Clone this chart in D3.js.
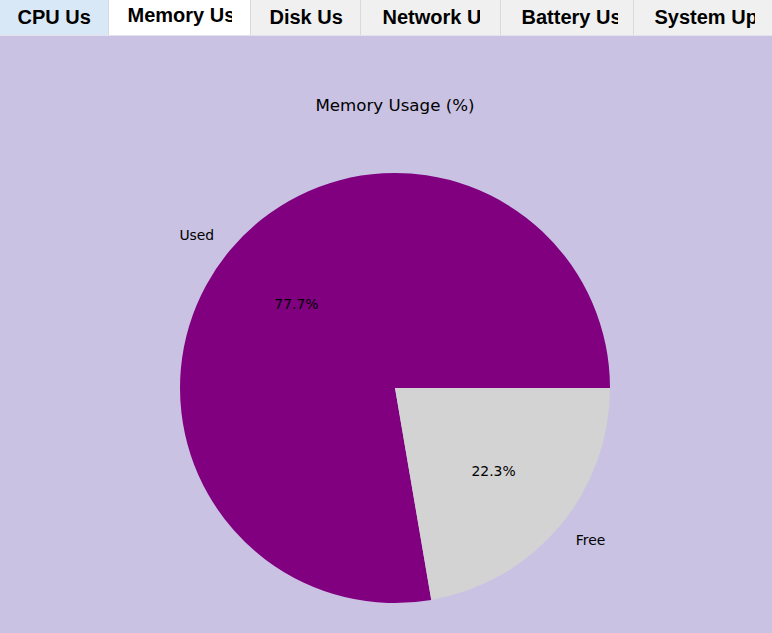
<!DOCTYPE html>
<html>
<head>
<meta charset="utf-8">
<script src="https://cdn.jsdelivr.net/npm/d3@7"></script>
<style>
  html, body { margin: 0; padding: 0; background: #c9c2e3; }
  svg { display: block; }
</style>
</head>
<body>
<div id="chart"></div>
<script>
// ---- data ----
const tabLabels = ["CPU Usage", "Memory Usage", "Disk Usage", "Network Usage", "Battery Usage", "System Uptime"];
const selectedTab = "Memory Usage";
const hoverTab = "CPU Usage";
const categories = ["Used", "Free"];
const values = [77.7, 22.3];
const chartTitle = "Memory Usage (%)";

// ---- layout ----
const W = 772, H = 633;
const tabEdges = [0, 109, 251, 361, 501, 634, 772];
const tabPadL = [17, 18, 18, 21, 20, 20];
const tabPadR = [18, 19, 18, 21, 16, 17];
const tabH = 35;
const cx = 395, cy = 388, R = 215;
const colors = d3.scaleOrdinal().domain(categories).range(["#800080", "#d3d3d3"]);

const svg = d3.select("#chart").append("svg").attr("width", W).attr("height", H);
svg.append("rect").attr("width", W).attr("height", H).attr("fill", "#c9c2e3");

// tabs
const defs = svg.append("defs");
const tabs = svg.append("g");
tabLabels.forEach((lab, i) => {
  const x0 = tabEdges[i], x1 = tabEdges[i + 1];
  const sel = lab === selectedTab;
  const fill = sel ? "#ffffff" : (lab === hoverTab ? "#d9e8f7" : "#f0f0f0");
  tabs.append("rect").attr("x", x0).attr("y", 0).attr("width", x1 - x0).attr("height", tabH).attr("fill", fill);
  if (i > 0) tabs.append("rect").attr("x", x0 - 1).attr("y", 0).attr("width", 1).attr("height", tabH).attr("fill", "#dadada");
  const cid = "clip" + i;
  defs.append("clipPath").attr("id", cid).append("rect")
    .attr("x", x0 + tabPadL[i]).attr("y", 0).attr("width", (x1 - x0) - tabPadL[i] - tabPadR[i]).attr("height", tabH);
  tabs.append("text")
    .attr("clip-path", `url(#${cid})`)
    .attr("x", x0 + tabPadL[i] + 0.5)
    .attr("y", sel ? 21.5 : 23.5)
    .attr("font-family", "'Liberation Sans', Arial, sans-serif")
    .attr("font-weight", "bold")
    .attr("font-size", 20)
    .attr("fill", "#000")
    .text(lab);
});
svg.append("rect").attr("x", 0).attr("y", tabH).attr("width", W).attr("height", 1).attr("fill", "#e4e0ee");

// title
svg.append("text")
  .attr("x", cx).attr("y", 111)
  .attr("text-anchor", "middle")
  .attr("font-family", "'DejaVu Sans', sans-serif")
  .attr("font-size", 16.67)
  .attr("fill", "#000")
  .text(chartTitle);

// pie (matplotlib style: start at 3 o'clock, counter-clockwise)
const pie = d3.pie().sort(null).value(d => d.v)
  .startAngle(Math.PI / 2).endAngle(Math.PI / 2 - 2 * Math.PI);
const data = categories.map((c, i) => ({ c, v: values[i] }));
const arcs = pie(data);
const arc = d3.arc().innerRadius(0).outerRadius(R);
const g = svg.append("g").attr("transform", `translate(${cx},${cy})`);
g.selectAll("path").data(arcs).enter().append("path")
  .attr("d", arc)
  .attr("fill", d => colors(d.data.c));

const total = d3.sum(values);
arcs.forEach(a => {
  const mid = (a.startAngle + a.endAngle) / 2;
  const sx = Math.sin(mid), sy = -Math.cos(mid);
  g.append("text")
    .attr("x", 1.1 * R * sx).attr("y", 1.1 * R * sy)
    .attr("dy", "0.32em")
    .attr("text-anchor", sx < 0 ? "end" : "start")
    .attr("font-family", "'DejaVu Sans', sans-serif")
    .attr("font-size", 13.9)
    .attr("fill", "#000")
    .text(a.data.c);
  g.append("text")
    .attr("x", 0.6 * R * sx).attr("y", 0.6 * R * sy)
    .attr("dy", "0.32em")
    .attr("text-anchor", "middle")
    .attr("font-family", "'DejaVu Sans', sans-serif")
    .attr("font-size", 13.9)
    .attr("fill", "#000")
    .text((a.data.v / total * 100).toFixed(1) + "%");
});
</script>
</body>
</html>
